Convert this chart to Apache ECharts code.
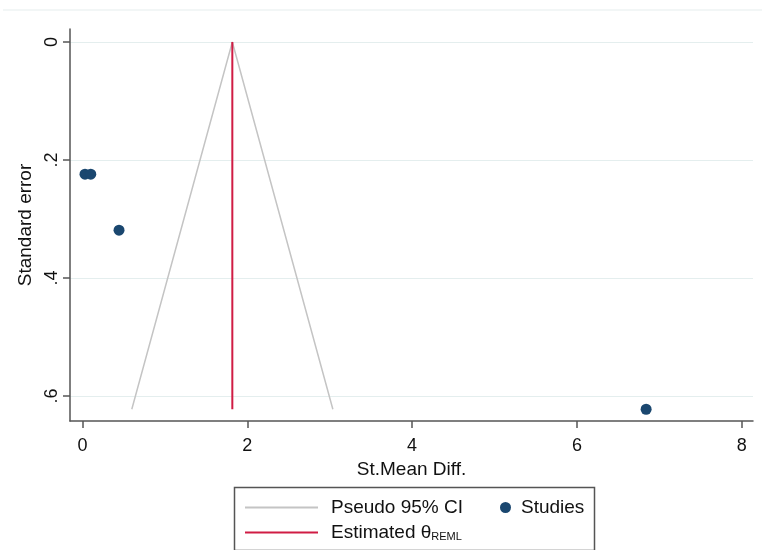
<!DOCTYPE html>
<html><head><meta charset="utf-8">
<script src="https://cdn.jsdelivr.net/npm/echarts@6/dist/echarts.min.js"></script>
<style>html,body{margin:0;padding:0;background:#fff}#c{width:762px;height:550px}</style>
</head><body><div id="c"></div>
<script>
// Data
const studyX = [0.03, 0.10, 0.443, 6.84];
const studySE = [0.224, 0.224, 0.319, 0.6225];
const thetaREML = 1.818;
const funnelSE = [0, 0.6225];
const xTicks = [0, 2, 4, 6, 8];
const yTicks = [0, 0.2, 0.4, 0.6];
const yTickLabels = ['0', '.2', '.4', '.6'];

const seMax = funnelSE[1];
const ciLine = [[thetaREML - 1.96 * seMax, seMax], [thetaREML, funnelSE[0]], [thetaREML + 1.96 * seMax, seMax]];
const estLine = [[thetaREML, funnelSE[0]], [thetaREML, seMax]];
const studies = studyX.map((x, i) => [x, studySE[i]]);

const FONT = 'Liberation Sans, Arial, sans-serif';
const TXT = '#111';
const chart = echarts.init(document.getElementById('c'), null, {renderer: 'canvas'});
const legendText = {fontSize: 19, color: TXT, fontFamily: FONT};
chart.setOption({
  animation: false,
  backgroundColor: '#fff',
  textStyle: {fontFamily: FONT},
  grid: {left: 70, right: 9, top: 29, bottom: 129, containLabel: false},
  xAxis: {
    type: 'value', min: -0.152, max: 8.137,
    name: 'St.Mean Diff.', nameLocation: 'middle', nameGap: 33,
    nameTextStyle: {fontSize: 19, color: TXT, fontFamily: FONT},
    axisLine: {show: true, onZero: false, lineStyle: {color: '#555', width: 1.5}},
    axisTick: {show: true, length: 7, lineStyle: {color: '#555', width: 1.5}, customValues: xTicks},
    axisLabel: {fontSize: 18, color: TXT, margin: 16, customValues: xTicks, formatter: v => String(v)},
    splitLine: {show: false}
  },
  yAxis: {
    type: 'value', inverse: true, min: -0.022, max: 0.6424,
    name: 'Standard error', nameLocation: 'middle', nameGap: 34,
    nameTextStyle: {fontSize: 19, color: TXT, fontFamily: FONT},
    axisLine: {show: true, onZero: false, lineStyle: {color: '#555', width: 1.5}},
    axisTick: {show: true, length: 7, lineStyle: {color: '#555', width: 1.5}, customValues: yTicks},
    axisLabel: {fontSize: 18, color: TXT, rotate: 90, margin: 9, customValues: yTicks,
      formatter: v => { const i = yTicks.findIndex(t => Math.abs(t - v) < 1e-6); return i >= 0 ? yTickLabels[i] : ''; }},
    splitLine: {show: true, lineStyle: {color: '#e4eeee', width: 1.2}}
  },
  legend: [
    {
      left: 240, top: 493, itemWidth: 73, itemHeight: 2, icon: 'rect',
      data: ['Pseudo 95% CI'],
      textStyle: Object.assign({padding: [0, 0, 0, 8]}, legendText)
    },
    {
      left: 240, top: 518, itemWidth: 73, itemHeight: 2, icon: 'rect',
      data: ['Estimated θREML'],
      textStyle: Object.assign({padding: [0, 0, 0, 8],
        rich: {sub: {fontSize: 11, color: TXT, fontFamily: FONT, padding: [9, 0, 0, 0]}}}, legendText),
      formatter: () => 'Estimated θ{sub|REML}'
    },
    {
      left: 495, top: 493, itemWidth: 11, itemHeight: 11, icon: 'circle',
      data: ['Studies'],
      textStyle: Object.assign({padding: [0, 0, 0, 5]}, legendText)
    }
  ],
  graphic: [
    {type: 'rect', left: 232, top: 485, shape: {width: 360, height: 63},
      style: {fill: 'none', stroke: '#555', lineWidth: 1.5}, z: -1},
    {type: 'line', shape: {x1: 3, y1: 10, x2: 762, y2: 10}, style: {stroke: '#eef3f3', lineWidth: 1.5}}
  ],
  series: [
    {name: 'Pseudo 95% CI', type: 'line', data: ciLine, showSymbol: false, symbol: 'none',
      lineStyle: {color: '#c4c4c4', width: 1.5}, itemStyle: {color: '#c4c4c4'}, z: 2},
    {name: 'Estimated θREML', type: 'line', data: estLine, showSymbol: false, symbol: 'none',
      lineStyle: {color: '#d01c44', width: 2}, itemStyle: {color: '#d01c44'}, z: 3},
    {name: 'Studies', type: 'scatter', data: studies, symbol: 'circle', symbolSize: 11,
      itemStyle: {color: '#1a476f', opacity: 1}, z: 4}
  ]
});
</script></body></html>
